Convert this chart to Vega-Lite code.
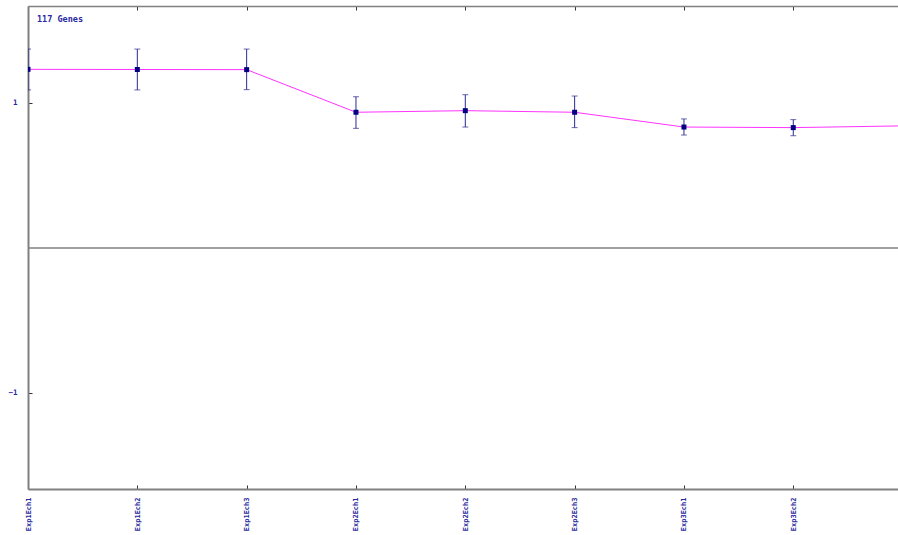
{
  "$schema": "https://vega.github.io/schema/vega-lite/v6.json",
  "width": 870,
  "height": 483,
  "autosize": "none",
  "padding": {"left": 28, "top": 6, "right": 0, "bottom": 46},
  "background": "white",
  "config": {
    "view": {"stroke": null},
    "axis": {
      "domainColor": "#808080",
      "domainWidth": 2,
      "tickColor": "#333333",
      "tickWidth": 1,
      "labelColor": "#2a2aa0",
      "labelFont": "DejaVu Sans Mono",
      "labelFontSize": 7,
      "labelFontWeight": "bold",
      "grid": false
    }
  },
  "data": {
    "values": [
      {"sample": "Exp1Ech1", "mean": 1.232, "lo": 1.090, "hi": 1.372},
      {"sample": "Exp1Ech2", "mean": 1.231, "lo": 1.090, "hi": 1.372},
      {"sample": "Exp1Ech3", "mean": 1.230, "lo": 1.092, "hi": 1.372},
      {"sample": "Exp2Ech1", "mean": 0.936, "lo": 0.825, "hi": 1.043},
      {"sample": "Exp2Ech2", "mean": 0.947, "lo": 0.834, "hi": 1.057},
      {"sample": "Exp2Ech3", "mean": 0.936, "lo": 0.830, "hi": 1.048},
      {"sample": "Exp3Ech1", "mean": 0.834, "lo": 0.779, "hi": 0.890},
      {"sample": "Exp3Ech2", "mean": 0.830, "lo": 0.774, "hi": 0.885},
      {"sample": "Exp3Ech3", "mean": 0.842, "lo": 0.785, "hi": 0.898}
    ]
  },
  "resolve": {"axis": {"x": "independent"}},
  "layer": [
    {
      "data": {"values": [{"zero": 0}]},
      "mark": {"type": "rule", "color": "#808080", "strokeWidth": 1.5},
      "encoding": {
        "y": {
          "field": "zero", "type": "quantitative", "title": null,
          "scale": {"domain": [-1.663, 1.669], "nice": false, "zero": false},
          "axis": {"values": [1, -1], "format": "d", "tickSize": -4, "labelPadding": 15, "labelFontSize": 7.5, "title": null}
        }
      }
    },
    {
      "mark": {"type": "errorbar", "color": "#2a2a90", "thickness": 1, "ticks": {"size": 6, "color": "#2a2a90"}, "clip": true},
      "encoding": {
        "x": {
          "field": "sample", "type": "ordinal", "sort": null, "title": null,
          "scale": {"type": "point", "range": [0, 874.6], "padding": 0},
          "axis": {"orient": "top", "labels": false, "tickSize": -4, "domainWidth": 1.5, "title": null}
        },
        "y": {"field": "lo", "type": "quantitative", "title": null},
        "y2": {"field": "hi"}
      }
    },
    {
      "mark": {"type": "line", "color": "#ff33ff", "strokeWidth": 1, "clip": true},
      "encoding": {
        "x": {
          "field": "sample", "type": "ordinal", "sort": null, "title": null,
          "axis": {"orient": "bottom", "labelAngle": -90, "tickSize": -4, "labelPadding": 12, "title": null,
                   "labelExpr": "datum.value == 'Exp3Ech3' ? '' : datum.label"}
        },
        "y": {"field": "mean", "type": "quantitative", "title": null}
      }
    },
    {
      "mark": {"type": "point", "shape": "square", "filled": true, "opacity": 1, "size": 25, "color": "#000080", "clip": true},
      "encoding": {
        "x": {"field": "sample", "type": "ordinal", "sort": null, "axis": null},
        "y": {"field": "mean", "type": "quantitative", "title": null}
      }
    },
    {
      "data": {"values": [{"sample": "Exp1Ech1", "v": 1.579, "label": "117 Genes"}]},
      "mark": {"type": "text", "align": "left", "baseline": "middle", "dx": 9, "font": "DejaVu Sans Mono", "fontSize": 8.5, "fontWeight": "bold", "color": "#2a2aa0"},
      "encoding": {
        "x": {"field": "sample", "type": "ordinal", "axis": null},
        "y": {"field": "v", "type": "quantitative", "title": null},
        "text": {"field": "label"}
      }
    }
  ]
}
